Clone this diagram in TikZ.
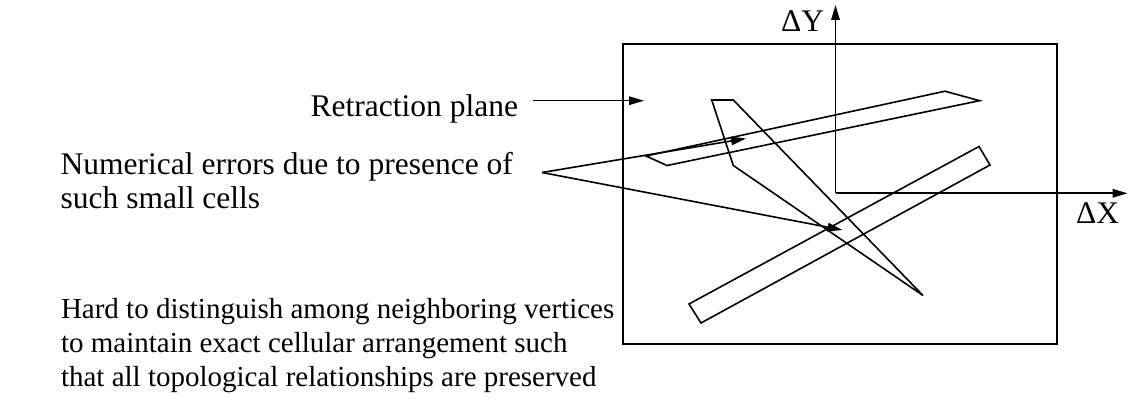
\documentclass[tikz,border=0pt]{standalone}
\usepackage{fontspec}
\setmainfont{Liberation Serif}
\usetikzlibrary{arrows.meta}
\tikzset{
  lbl/.style={inner sep=0pt, outer sep=0pt, font=\fontsize{31.5}{34}\selectfont},
  blk/.style={lbl, align=left},
  sblk/.style={inner sep=0pt, outer sep=0pt, align=left, font=\fontsize{29}{34}\selectfont},
  shp/.style={line width=1.6pt, line join=miter},
  arr/.style={line width=1.6pt, -{Triangle[length=15pt,width=8.5pt]}}
}
\begin{document}
\begin{tikzpicture}[x=1pt,y=-1pt]
\useasboundingbox (0,0) rectangle (1128,409);
% retraction plane rectangle
\node[shp, draw, minimum width=434pt, minimum height=299.5pt, anchor=north west, inner sep=0pt] (plane) at (622,43.5) {};
% axes
\coordinate (o) at (835.5,193.3);
\coordinate (ytip) at (835.5,5);
\coordinate (xtip) at (1127.5,193.3);
\draw[arr] (o) -- (ytip);
\draw[arr] (o) -- (xtip);
\node[lbl, anchor=base west] (dy) at (781,31.7) {ΔY};
\node[lbl, anchor=base west] (dx) at (1076,223.3) {ΔX};
% sliver cell
\draw[shp] (646,156) -- (945,91.2) -- (979.5,100.7) -- (667,165.5) -- cycle;
% fin cell
\draw[shp] (711.7,100) -- (733.3,100) -- (923,295.5) -- (733.3,165.5) -- cycle;
% bar cell
\draw[shp] (689,304) -- (979,146.5) -- (990,165) -- (701,323) -- cycle;
% labels
\node[lbl, anchor=base east] (retr) at (518,116.7) {Retraction plane};
\node[blk, anchor=base west] (num) at (60.7,208.5) {Numerical errors due to presence of\\such small cells};
\node[sblk, anchor=base west] (hard) at (61,386) {Hard to distinguish among neighboring vertices\\to maintain exact cellular arrangement such\\that all topological relationships are preserved};
% connectors
\coordinate (rstart) at (533,100.7);
\coordinate (rtip) at (644,100.7);
\draw[arr] (rstart) -- (rtip);
\coordinate (apex) at (542,172.5);
\coordinate (t1) at (746,138.5);
\coordinate (t2) at (842.5,230);
\draw[arr] (apex) -- (t1);
\draw[arr] (apex) -- (t2);
\end{tikzpicture}
\end{document}
